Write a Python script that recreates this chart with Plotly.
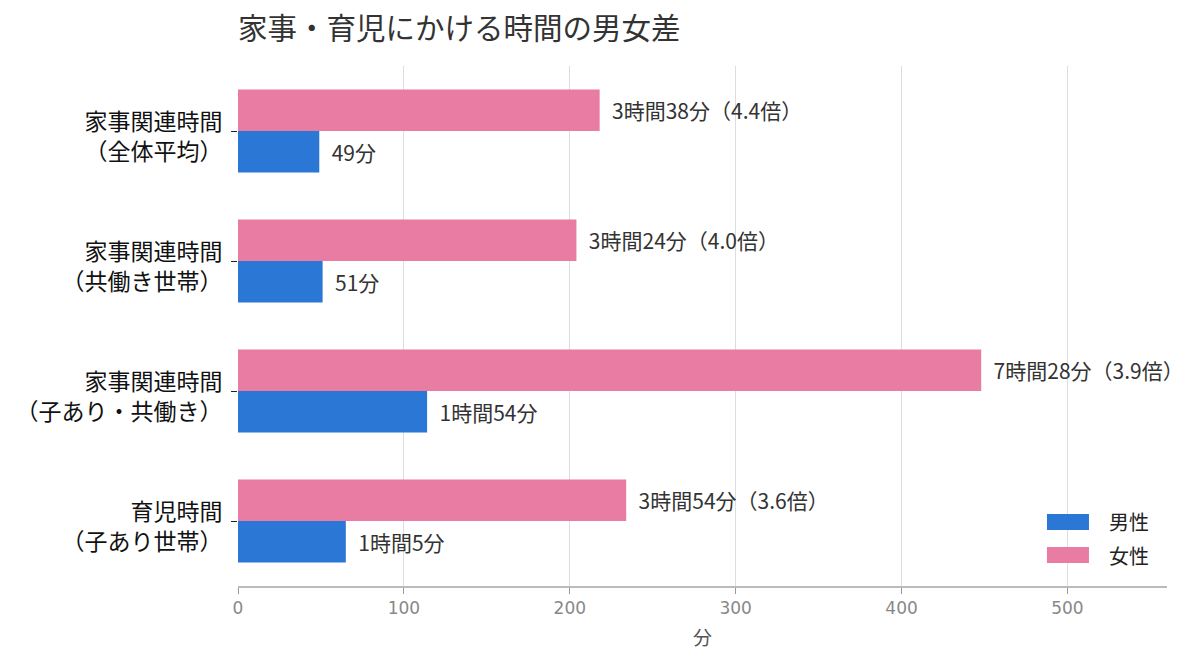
# 家事・育児時間の男女差（横棒グラフ）
import plotly.graph_objects as go

categories = [
    "家事関連時間<br>（全体平均）",
    "家事関連時間<br>（共働き世帯）",
    "家事関連時間<br>（子あり・共働き）",
    "育児時間<br>（子あり世帯）",
]
male_min = [49, 51, 114, 65]
female_min = [218, 204, 448, 234]
male_labels = ["49分", "51分", "1時間54分", "1時間5分"]
female_labels = ["3時間38分（4.4倍）", "3時間24分（4.0倍）", "7時間28分（3.9倍）", "3時間54分（3.6倍）"]
series_names = ["男性", "女性"]

jp_font = "Noto Sans CJK JP"
male_color = "#2a77d5"
female_color = "#e87ca3"

fig = go.Figure()
fig.add_trace(go.Bar(
    y=categories, x=male_min, name=series_names[0], orientation="h",
    marker=dict(color=male_color, line=dict(width=0)),
    text=["  " + t for t in male_labels], textposition="outside",
    textfont=dict(family=jp_font, size=21, color="#333333"),
    cliponaxis=False, showlegend=False,
))
fig.add_trace(go.Bar(
    y=categories, x=female_min, name=series_names[1], orientation="h",
    marker=dict(color=female_color, line=dict(width=0)),
    text=["  " + t for t in female_labels], textposition="outside",
    textfont=dict(family=jp_font, size=21, color="#333333"),
    cliponaxis=False, showlegend=False,
))

# legend drawn by hand (wide swatches like the original)
legend_rows = [(series_names[0], male_color, 0.1077, 0.1385),
               (series_names[1], female_color, 0.0442, 0.0750)]
for name, col, y0, y1 in legend_rows:
    fig.add_shape(type="rect", xref="paper", yref="paper",
                  x0=0.8708, x1=0.916, y0=y0, y1=y1,
                  fillcolor=col, line=dict(width=0))
    fig.add_annotation(text=name, xref="paper", yref="paper",
                       x=0.9354, y=(y0 + y1) / 2, xanchor="left", yanchor="middle",
                       showarrow=False, font=dict(family=jp_font, size=20, color="#222222"))

fig.update_layout(
    width=1192, height=658,
    barmode="group", bargap=0.36, bargroupgap=0,
    plot_bgcolor="white", paper_bgcolor="white",
    margin=dict(l=230, r=33, t=58, b=80),
    title=dict(text="家事・育児にかける時間の男女差", x=230 / 1192, xanchor="left",
               y=1 - 21 / 658, yanchor="middle",
               font=dict(family=jp_font, size=29.5, color="#333333")),
    showlegend=False,
)
fig.update_xaxes(
    range=[0, 560], tickvals=[0, 100, 200, 300, 400, 500],
    showgrid=True, gridcolor="#dddddd", gridwidth=1, zeroline=False,
    showline=True, linecolor="#bbbbbb", linewidth=1.5,
    ticks="outside", ticklen=6, tickcolor="#999999",
    tickfont=dict(family="DejaVu Sans", size=17, color="#888888"),
    title=dict(text="分", font=dict(family=jp_font, size=19, color="#555555"), standoff=15),
)
fig.update_yaxes(
    categoryorder="array", categoryarray=categories[::-1],
    showgrid=False, zeroline=False, showline=False, automargin=False,
    ticks="outside", ticklen=6, tickcolor="#222222",
    ticklabelshift=6, ticklabelstandoff=4,
    tickfont=dict(family=jp_font, size=23, color="#111111"),
)

fig.write_html("out.html")
